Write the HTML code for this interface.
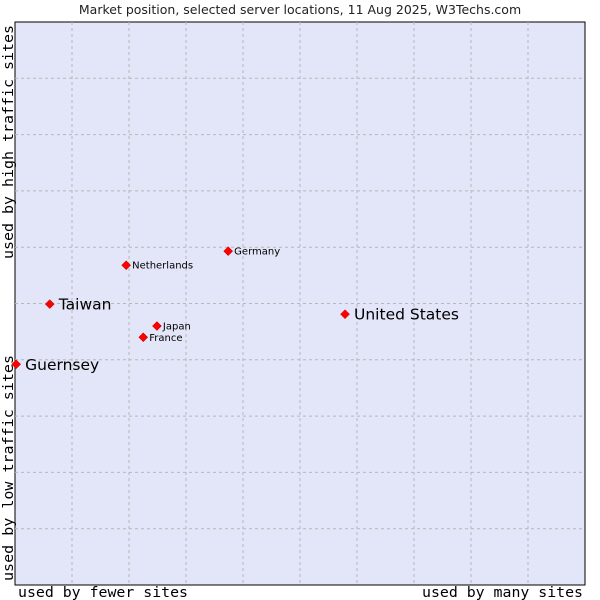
<!DOCTYPE html>
<html><head><meta charset="utf-8"><style>
body{margin:0;background:#fff;width:600px;height:600px;overflow:hidden}
svg{display:block}
</style></head><body>
<svg id="chart" width="600" height="600" xmlns="http://www.w3.org/2000/svg">
<text x="300" y="14" text-anchor="middle" font-family="DejaVu Sans, sans-serif" font-size="12.5" fill="#222">Market position, selected server locations, 11 Aug 2025, W3Techs.com</text>
<rect x="15" y="22" width="570" height="563" fill="#e3e5f8" stroke="#000" stroke-width="1"/>
<g id="grid"></g>
<g id="pts"></g>
<text x="18" y="597" textLength="170" lengthAdjust="spacingAndGlyphs" font-family="DejaVu Sans Mono, monospace" font-size="14" fill="#000">used by fewer sites</text>
<text x="422" y="597" textLength="161" lengthAdjust="spacingAndGlyphs" font-family="DejaVu Sans Mono, monospace" font-size="14" fill="#000">used by many sites</text>
<text transform="translate(13,581) rotate(-90)" textLength="226" lengthAdjust="spacingAndGlyphs" font-family="DejaVu Sans Mono, monospace" font-size="14" fill="#000">used by low traffic sites</text>
<text transform="translate(13,259) rotate(-90)" textLength="234" lengthAdjust="spacingAndGlyphs" font-family="DejaVu Sans Mono, monospace" font-size="14" fill="#000">used by high traffic sites</text>
</svg>
<script>
const names=["United States","Taiwan","Guernsey","Netherlands","Germany","Japan","France"];
const xVals=[57.9,6.1,0.2,19.5,37.4,24.9,22.5];
const yVals=[48.1,49.9,39.2,56.8,59.3,46.0,44.0];
const big=[true,true,true,false,false,false,false];
const NS="http://www.w3.org/2000/svg";
const X0=15,X1=585,Y0=585,Y1=22;
const sx=v=>X0+(X1-X0)*v/100, sy=v=>Y0-(Y0-Y1)*v/100;
const grid=document.getElementById('grid'), pts=document.getElementById('pts');
for(let i=1;i<10;i++){
  const v=document.createElementNS(NS,'line');
  
  
  v.setAttribute('x1',sx(i*10));v.setAttribute('x2',sx(i*10));v.setAttribute('y1',Y1);v.setAttribute('y2',Y0);
  v.setAttribute('stroke','#b8b8b8');v.setAttribute('stroke-dasharray','3,3');grid.appendChild(v);
  const h=document.createElementNS(NS,'line');
  
  
  h.setAttribute('y1',sy(i*10));h.setAttribute('y2',sy(i*10));h.setAttribute('x1',X0);h.setAttribute('x2',X1);
  h.setAttribute('stroke','#b8b8b8');h.setAttribute('stroke-dasharray','3,3');grid.appendChild(h);
}
names.forEach((n,i)=>{
  const x=sx(xVals[i]),y=sy(yVals[i]);
  const d=document.createElementNS(NS,'path');
  
  
  d.setAttribute('d',`M${x},${y-4.5}L${x+4.5},${y}L${x},${y+4.5}L${x-4.5},${y}Z`);
  d.setAttribute('fill','#ff0000');d.setAttribute('stroke','#b00000');d.setAttribute('stroke-width','0.5');
  pts.appendChild(d);
  const t=document.createElementNS(NS,'text');
  
  
  t.setAttribute('x',x+(big[i]?9:6));t.setAttribute('y',y+(big[i]?5.5:3.5));
  t.setAttribute('font-family','DejaVu Sans, sans-serif');
  t.setAttribute('font-size',big[i]?'15.5':'10');
  t.textContent=n;pts.appendChild(t);
});
</script>
</body></html>
